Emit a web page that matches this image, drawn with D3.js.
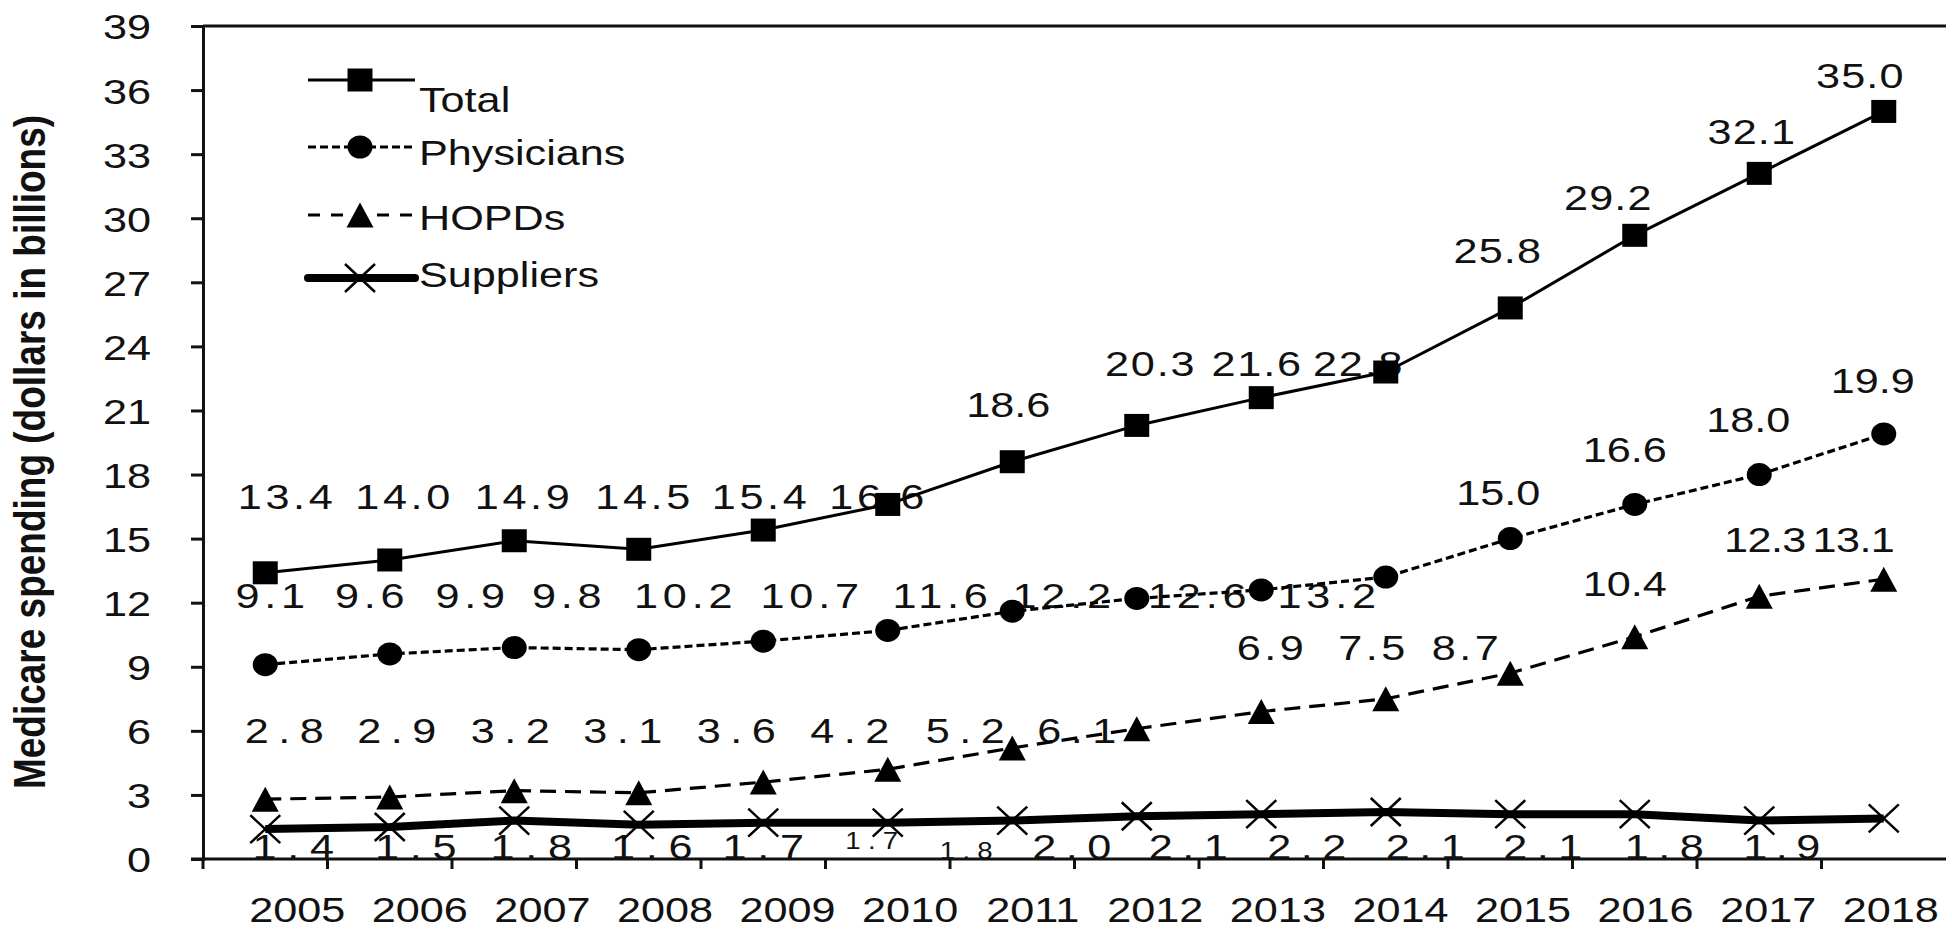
<!DOCTYPE html>
<html>
<head>
<meta charset="utf-8">
<script src="https://cdn.jsdelivr.net/npm/d3@7"></script>
<style>
  html, body { margin: 0; padding: 0; background: #fff; }
  svg { display: block; }
  text { font-family: Arial, "Liberation Sans", sans-serif; fill: #111; }
</style>
</head>
<body>
<svg id="chart" width="1952" height="932"></svg>
<script>
// ---- data ----
const years = ["2005","2006","2007","2008","2009","2010","2011","2012","2013","2014","2015","2016","2017","2018"];
const total      = [13.4, 14.0, 14.9, 14.5, 15.4, 16.6, 18.6, 20.3, 21.6, 22.8, 25.8, 29.2, 32.1, 35.0];
const physicians = [9.1, 9.6, 9.9, 9.8, 10.2, 10.7, 11.6, 12.2, 12.6, 13.2, 15.0, 16.6, 18.0, 19.9];
const hopds      = [2.8, 2.9, 3.2, 3.1, 3.6, 4.2, 5.2, 6.1, 6.9, 7.5, 8.7, 10.4, 12.3, 13.1];
const suppliers  = [1.4, 1.5, 1.8, 1.6, 1.7, 1.7, 1.8, 2.0, 2.1, 2.2, 2.1, 2.1, 1.8, 1.9];
const yTicks = [0, 3, 6, 9, 12, 15, 18, 21, 24, 27, 30, 33, 36, 39];
const seriesNames = ["Total", "Physicians", "HOPDs", "Suppliers"];
const yTitle = "Medicare spending (dollars in billions)";

// ---- value-label placement (axis units for the label centre, px nudges, spacing) ----
const labelLevel = {
  Total:      [17, 17, 17, 17, 17, 17, 21.3, 23.2, 23.2, 23.2, 28.5, 31.0, 34.1, 36.7],
  Physicians: [12.35, 12.35, 12.35, 12.35, 12.35, 12.35, 12.35, 12.35, 12.35, 12.35, 17.2, 19.2, 20.6, 22.4],
  HOPDs:      [6.03, 6.03, 6.03, 6.03, 6.03, 6.03, 6.03, 6.03, 9.9, 9.9, 9.9, 12.9, 15.0, 15.0],
  Suppliers:  [0.6, 0.6, 0.6, 0.6, 0.6, 0.84, 0.37, 0.6, 0.6, 0.6, 0.6, 0.6, 0.6, 0.6]
};
const labelNudge = {
  Total:      [20, 13, 8, 4, -4, -11, -4, 13, -5, -28, -13, -27, -8, -24],
  Physicians: [5, -20, -44, -72, -80, -78, -72, -75, -64, -59, -12, -10, -11, -11],
  HOPDs:      [19, 7, -4, -16, -27, -38, -47, -60, 9, -14, -45, -10, 6, -30],
  Suppliers:  [28, 26, 17, 13, 0, -16, -46, -65, -73, -79, -85, -92, -95, -102]
};
const labelSpacing = {
  Total:      [3, 3, 3, 3, 3, 3, 0, 1.5, 1.5, 1.5, 1, 1, 1, 1],
  Physicians: [4, 4, 4, 4, 4, 4, 4, 4, 4, 4, 0, 0, 0, 0],
  HOPDs:      [8, 8, 8, 8, 8, 8, 8, 8, 3, 3, 3, 0, -0.5, -0.5],
  Suppliers:  [9, 9, 9, 9, 9, 6, 6, 8, 8, 8, 8, 8, 8, 7]
};
const labelSize = {
  Total: 36, Physicians: 36, HOPDs: 36, Suppliers: 36
};
const smallLabelSize = 23;
const smallSupplierLabels = [5, 6];

// ---- geometry ----
const W = 1952, H = 932;
const margin = { top: 26, right: 6, bottom: 73, left: 203 };
const SX = 1.2;          // horizontal text stretch
const FS = 36;           // base font size

const svg = d3.select("#chart");

const x = d3.scaleBand().domain(years).range([margin.left, W - margin.right]).padding(0);
const bw = x.bandwidth();
const px = d => x(d) + bw / 2;
const y = d3.scaleLinear().domain([0, 39]).range([H - margin.bottom, margin.top]);

// year labels sit on a slightly tighter spacing than the points
const yearLabelX = d3.scalePoint().domain(years)
  .range([px(years[0]) + 32, px(years[years.length - 1]) + 7]);

function stretch(sel, tx, ty) {
  return sel.attr("x", 0).attr("y", 0)
    .attr("transform", `translate(${tx},${ty}) scale(${SX},1)`);
}

// ---- y axis ----
const yAxis = d3.axisLeft(y).tickValues(yTicks).tickSize(12).tickPadding(40).tickFormat(d3.format("d"));
const gy = svg.append("g").attr("transform", `translate(${margin.left},0)`).call(yAxis);
gy.select(".domain").attr("stroke", "#111").attr("stroke-width", 3);
gy.selectAll(".tick line").attr("stroke", "#111").attr("stroke-width", 3);
gy.selectAll(".tick text").each(function () {
  const t = d3.select(this);
  t.attr("x", null).attr("dy", null)
    .attr("font-size", FS)
    .attr("text-anchor", "end")
    .attr("transform", `translate(-52,${0.36 * FS}) scale(${SX},1)`);
});

// top border along the 39 line
svg.append("line")
  .attr("x1", margin.left).attr("x2", W - margin.right)
  .attr("y1", y(39)).attr("y2", y(39))
  .attr("stroke", "#111").attr("stroke-width", 3);

// ---- x axis ----
svg.append("line")
  .attr("x1", margin.left - 12).attr("x2", W - margin.right)
  .attr("y1", y(0)).attr("y2", y(0))
  .attr("stroke", "#111").attr("stroke-width", 3);
svg.append("g").selectAll("line").data(years).join("line")
  .attr("x1", d => x(d)).attr("x2", d => x(d))
  .attr("y1", y(0)).attr("y2", y(0) + 10)
  .attr("stroke", "#111").attr("stroke-width", 3);
svg.append("g").selectAll("text").data(years).join("text")
  .attr("font-size", FS)
  .attr("text-anchor", "middle")
  .text(d => d)
  .each(function (d) { stretch(d3.select(this), yearLabelX(d), 922); });

// ---- y title ----
svg.append("text")
  .attr("font-size", 37)
  .attr("font-weight", "bold")
  .attr("text-anchor", "middle")
  .attr("transform", `translate(45,452) scale(${SX},1) rotate(-90)`)
  .text(yTitle);

// ---- series ----
const series = [
  { name: "Total",      values: total,      width: 3,   dash: null,   marker: "square" },
  { name: "Physicians", values: physicians, width: 3.2, dash: "8,4",  marker: "circle" },
  { name: "HOPDs",      values: hopds,      width: 3.2, dash: "16,9", marker: "triangle" },
  { name: "Suppliers",  values: suppliers,  width: 8,   dash: null,   marker: "x" }
];

// value labels first, so lines and markers sit above them
const gLabels = svg.append("g");
series.forEach(s => {
  s.values.forEach((v, i) => {
    const small = s.name === "Suppliers" && smallSupplierLabels.includes(i);
    const fs = small ? smallLabelSize : labelSize[s.name];
    const ls = labelSpacing[s.name][i];
    const cx = px(years[i]) + labelNudge[s.name][i] + ls * SX / 2;
    const cy = y(labelLevel[s.name][i]) + 0.358 * fs;
    gLabels.append("text")
      .attr("font-size", fs)
      .attr("text-anchor", "middle")
      .attr("letter-spacing", ls)
      .text(v.toFixed(1))
      .call(t => stretch(t, cx, cy));
  });
});

const line = d3.line().x((d, i) => px(years[i])).y(d => y(d));

function drawMarker(g, type, cx, cy) {
  if (type === "square") {
    g.append("rect").attr("x", cx - 12.5).attr("y", cy - 11.5)
      .attr("width", 25).attr("height", 23).attr("fill", "#000");
  } else if (type === "circle") {
    g.append("ellipse").attr("cx", cx).attr("cy", cy)
      .attr("rx", 12.5).attr("ry", 11.5).attr("fill", "#000");
  } else if (type === "triangle") {
    g.append("path")
      .attr("d", `M${cx},${cy - 12.5}L${cx + 13.5},${cy + 12.5}L${cx - 13.5},${cy + 12.5}Z`)
      .attr("fill", "#000");
  } else if (type === "x") {
    g.append("path")
      .attr("d", `M${cx - 15},${cy - 14}L${cx + 15},${cy + 14}M${cx - 15},${cy + 14}L${cx + 15},${cy - 14}`)
      .attr("stroke", "#000").attr("stroke-width", 2.5).attr("fill", "none");
  }
}

series.forEach(s => {
  svg.append("path")
    .datum(s.values)
    .attr("d", line)
    .attr("fill", "none")
    .attr("stroke", "#000")
    .attr("stroke-width", s.width)
    .attr("stroke-linejoin", "round")
    .attr("stroke-dasharray", s.dash);
});
series.forEach(s => {
  const g = svg.append("g");
  s.values.forEach((v, i) => drawMarker(g, s.marker, px(years[i]), y(v)));
});

// ---- legend ----
const legendLineY = [80, 147, 215, 278];
const legendTextY = [112, 165, 230, 287];
const legend = svg.append("g");
series.forEach((s, i) => {
  legend.append("line")
    .attr("x1", 308).attr("x2", 415)
    .attr("y1", legendLineY[i]).attr("y2", legendLineY[i])
    .attr("stroke", "#000")
    .attr("stroke-width", s.width)
    .attr("stroke-linecap", s.name === "Suppliers" ? "round" : "butt")
    .attr("stroke-dasharray", s.name === "HOPDs" ? "12,11" : s.dash);
  drawMarker(legend, s.marker, 360, legendLineY[i]);
  legend.append("text")
    .attr("font-size", FS)
    .text(seriesNames[i])
    .call(t => stretch(t, 419, legendTextY[i]));
});
</script>
</body>
</html>
